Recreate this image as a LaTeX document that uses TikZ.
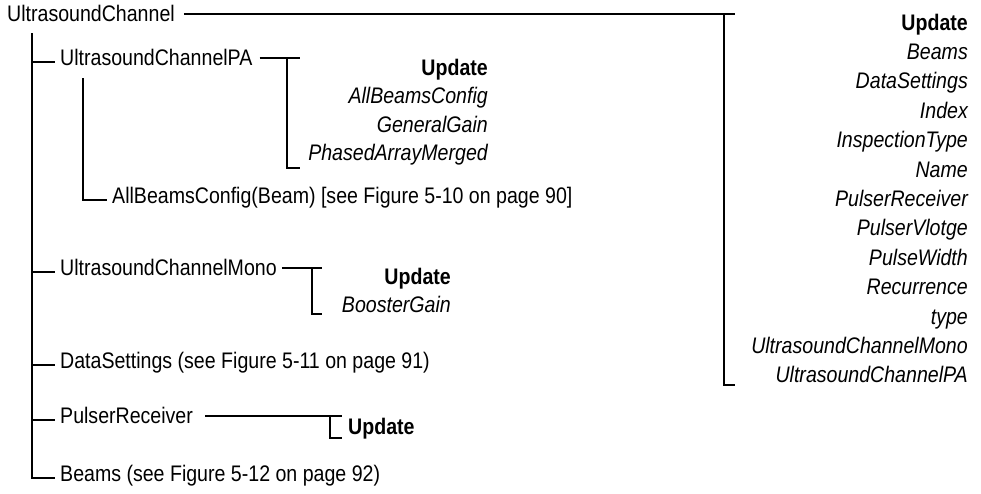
\documentclass[tikz,border=0pt]{standalone}
\usepackage{fontspec}
\setmainfont{Liberation Sans}[FakeStretch=0.87]
\newcommand{\diafont}{\fontsize{22.5}{27}\selectfont}

\begin{document}
\begin{tikzpicture}[x=1pt,y=-1pt,
    lbl/.style={inner sep=0pt, text height=0.72em, text depth=0pt, anchor=west, font=\diafont},
    hd/.style={inner sep=0pt, anchor=base east, font=\diafont\bfseries},
    itm/.style={inner sep=0pt, anchor=base east, font=\diafont\itshape},
    conn/.style={line width=1.8pt}]
      % \draw[help lines, gray!50, very thin] (0,0) grid[step=50] (981,493);
      \useasboundingbox (0,0) rectangle (981,493);

      % tree labels
      \node[lbl] (uc) at (7,18) {UltrasoundChannel};
      \node[lbl] (pa) at (60,62) {UltrasoundChannelPA};
      \node[lbl] (abc) at (112,200) {AllBeamsConfig(Beam) [see Figure 5-10 on page 90]};
      \node[lbl] (mono) at (60,272) {UltrasoundChannelMono};
      \node[lbl] (ds) at (60,365) {DataSettings (see Figure 5-11 on page 91)};
      \node[lbl] (pr) at (60,420) {PulserReceiver};
      \node[lbl] (bm) at (60,478) {Beams (see Figure 5-12 on page 92)};

      \coordinate (trunk) at (32,33);
      \coordinate (patrunk) at (83,78);
      \draw[conn] (trunk) |- ([xshift=-5pt]bm.west);
      \foreach \n in {pa,mono,ds,pr}
        \draw[conn] (\n.west -| trunk) -- ([xshift=-5pt]\n.west);
      \draw[conn] (patrunk) |- ([xshift=-5pt]abc.west);

      % UltrasoundChannel members
      \coordinate (ucr) at (735,10);
      \coordinate (ucb) at (724,385);
      \draw[conn] ([xshift=9pt]uc.north east) -- (uc.north -| ucr);
      \draw[conn] (uc.north -| ucb) -- (ucb) -- (ucb -| ucr);
      \node[hd] (ucupd) at (968,30) {Update};
      \foreach \t [count=\i] in {Beams,DataSettings,Index,InspectionType,Name,PulserReceiver,PulserVlotge,PulseWidth,Recurrence,type,UltrasoundChannelMono,UltrasoundChannelPA}
        \node[itm] (uc\i) at (968,30+29.4*\i) {\t};

      % UltrasoundChannelPA members
      \coordinate (pab) at (287,168);
      \draw[conn] ([xshift=7pt]pa.north east) -- ([xshift=13pt]pa.north -| pab);
      \draw[conn] (pa.north -| pab) -- (pab) -- ++(13,0);
      \node[hd] (paupd) at (488,75) {Update};
      \foreach \t [count=\i] in {AllBeamsConfig,GeneralGain,PhasedArrayMerged}
        \node[itm] (pa\i) at (488,75+28.5*\i) {\t};

      % UltrasoundChannelMono members
      \coordinate (monob) at (312,314);
      \draw[conn] ([xshift=5pt]mono.north east) -- ([xshift=10pt]mono.north -| monob);
      \draw[conn] (mono.north -| monob) -- (monob) -- ++(10,0);
      \node[hd] (monoupd) at (451,284) {Update};
      \node[itm] (mono1) at (451,312) {BoosterGain};

      % PulserReceiver members
      \coordinate (prb) at (330,438);
      \draw[conn] ([xshift=12pt]pr.north east) -- ([xshift=12pt]pr.north -| prb);
      \draw[conn] (pr.north -| prb) -- (prb) -- ++(12,0);
      \node[hd, anchor=base west] (prupd) at (348,434) {Update};
    \end{tikzpicture}
\end{document}
